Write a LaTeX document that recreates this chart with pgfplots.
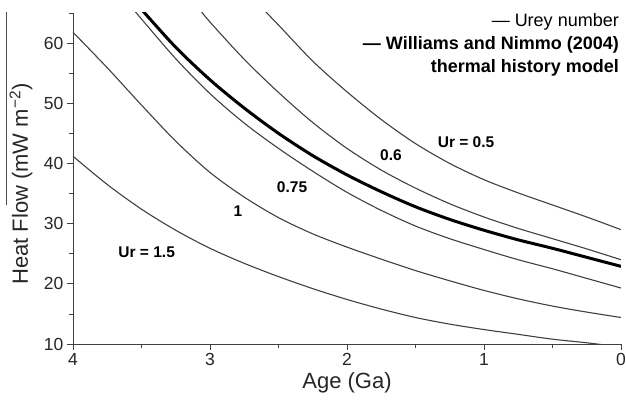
\documentclass[border=0pt]{standalone}
\usepackage{pgfplots}
\pgfplotsset{compat=1.18}
\usepackage{pgfplotstable}
\usepackage{fontspec}
\setmainfont{Liberation Sans}

\pgfplotstableread{
x y
4.00 41.2
3.75 36.5
3.50 32.4
3.25 28.9
3.00 25.9
2.75 23.4
2.50 21.2
2.25 19.2
2.00 17.4
1.75 15.8
1.50 14.4
1.25 13.3
1.00 12.4
0.75 11.6
0.50 10.8
0.25 10.2
0.00 9.5
}\urA

\pgfplotstableread{
x y
4.00 61.8
3.75 55.9
3.50 49.7
3.25 43.7
3.00 38.5
2.75 34.4
2.50 31.0
2.25 28.3
2.00 26.1
1.75 24.1
1.50 22.2
1.25 20.5
1.00 18.9
0.75 17.5
0.50 16.3
0.25 15.3
0.00 14.4
}\urB

\pgfplotstableread{
x y
3.60 66.7
3.50 64.0
3.25 57.4
3.00 51.6
2.75 46.7
2.50 42.5
2.25 38.7
2.00 35.2
1.75 32.2
1.50 29.6
1.25 27.5
1.00 25.7
0.75 24.0
0.50 22.5
0.25 20.9
0.00 19.3
}\urC

\pgfplotstableread{
x y
3.50 65.6
3.25 59.3
3.00 53.9
2.75 49.2
2.50 45.0
2.25 41.3
2.00 38.1
1.75 35.3
1.50 32.8
1.25 30.7
1.00 28.9
0.75 27.3
0.50 25.9
0.25 24.4
0.00 22.9
}\wn

\pgfplotstableread{
x y
3.10 66.3
3.00 63.5
2.75 57.3
2.50 51.8
2.25 46.8
2.00 42.5
1.75 38.9
1.50 35.9
1.25 33.3
1.00 31.1
0.75 29.2
0.50 27.5
0.25 25.8
0.00 24.0
}\urD

\pgfplotstableread{
x y
2.70 67.7
2.50 63.0
2.25 57.0
2.00 51.9
1.75 47.3
1.50 43.3
1.25 40.0
1.00 37.3
0.75 35.1
0.50 33.1
0.25 31.1
0.00 29.0
}\urE

\begin{document}
\begin{tikzpicture}
\begin{axis}[
  width=548pt, height=331pt, scale only axis,
  xmin=0, xmax=4, ymin=10, ymax=65, x dir=reverse,
  axis x line=bottom, axis y line=left,
  axis line style={-, line width=0.8pt, black!75},
  xtick={0,1,2,3,4}, minor xtick={0.5,1.5,2.5,3.5},
  ytick={10,20,30,40,50,60}, minor ytick={15,25,35,45,55,65},
  tick align=outside, major tick length=6pt, minor tick length=4pt,
  every tick/.style={black!75, line width=0.8pt},
  /pgf/number format/assume math mode=true,
  tick label style={font=\fontsize{17.5}{20}\selectfont, text=black!85},
  xlabel={Age (Ga)}, ylabel={Heat Flow (mW m\textsuperscript{−2})},
  xlabel style={at={(axis description cs:0.5,-0.133)}, anchor=base, inner sep=0pt, font=\fontsize{22}{26}\selectfont, text=black!85},
  ylabel style={at={(axis description cs:-0.0821,0.483)}, anchor=base, inner sep=0pt, font=\fontsize{22}{26}\selectfont, text=black!85},
  clip=true,
]
\addplot[black!75, line width=1.1pt, smooth] table {\urA};
\addplot[black!75, line width=1.1pt, smooth] table {\urB};
\addplot[black!75, line width=1.1pt, smooth] table {\urC};
\addplot[black!75, line width=1.1pt, smooth] table {\urD};
\addplot[black!75, line width=1.1pt, smooth] table {\urE};
\addplot[black, line width=3pt, smooth] table {\wn};

\node[font=\fontsize{15.5}{18}\selectfont\bfseries] at (axis cs:1.131,43.5) {Ur = 0.5};
\node[font=\fontsize{15.5}{18}\selectfont\bfseries] at (axis cs:1.679,41.3) {0.6};
\node[font=\fontsize{15.5}{18}\selectfont\bfseries] at (axis cs:2.401,36.0) {0.75};
\node[font=\fontsize{15.5}{18}\selectfont\bfseries] at (axis cs:2.796,32.0) {1};
\node[font=\fontsize{15.5}{18}\selectfont\bfseries] at (axis cs:3.462,25.3) {Ur = 1.5};
\end{axis}
\node[anchor=north east, inner sep=0pt, align=right, font=\fontsize{18}{23}\selectfont]
  at ([xshift=-2pt]current axis.north east)
  {— Urey number\\ \textbf{— Williams and Nimmo (2004)}\\ \textbf{thermal history model}};
\draw[line width=0.8pt, black!70] ([shift={(-67pt,1pt)}]current axis.north west) -- ([shift={(-67pt,-192pt)}]current axis.north west);
\pgfresetboundingbox
\path[use as bounding box] ([shift={(-73pt,-60pt)}]current axis.south west) rectangle ([shift={(5pt,13pt)}]current axis.north east);
\end{tikzpicture}
\end{document}
